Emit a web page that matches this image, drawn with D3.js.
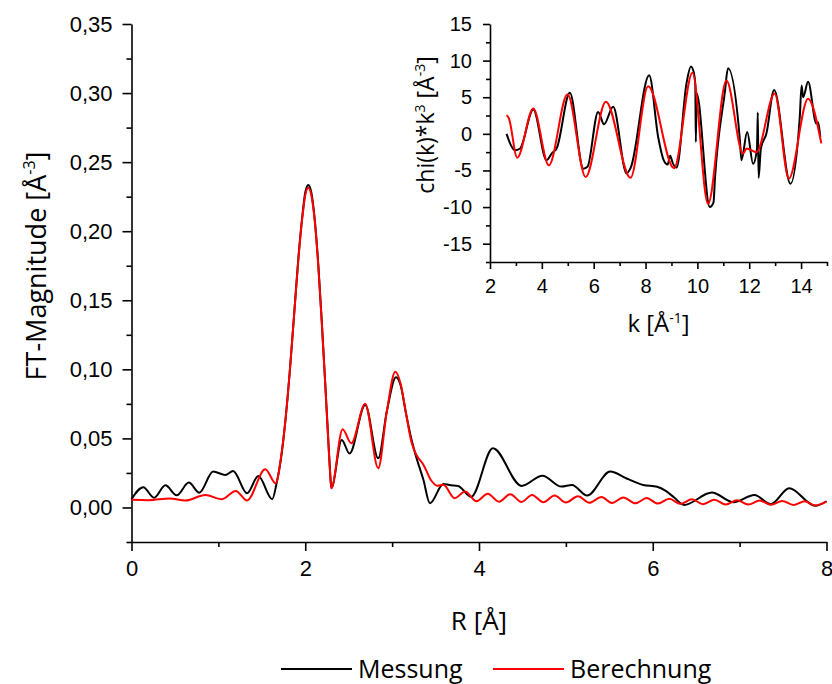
<!DOCTYPE html>
<html>
<head>
<meta charset="utf-8">
<script src="https://cdn.jsdelivr.net/npm/d3@7/dist/d3.min.js"></script>
<style>
  html, body { margin: 0; padding: 0; background: #fff; }
  svg { display: block; font-family: "Open Sans", "Noto Sans", sans-serif; }
  .axis path, .axis line { stroke: #000; stroke-width: 1.6; }
  .axis text { fill: #000; }
</style>
</head>
<body>
<svg id="chart" width="832" height="684"></svg>
<script>
// ---- FT magnitude |chi(R)| : measured and fitted ----
const rMeas = [0, 0.136, 0.26, 0.39, 0.52, 0.66, 0.78, 0.94, 1.08, 1.17, 1.33, 1.46, 1.62, 1.67, 1.72, 1.77, 1.82, 1.87, 1.92, 1.97, 2.00, 2.035, 2.07, 2.11, 2.15, 2.19, 2.23, 2.26, 2.285, 2.30, 2.42, 2.51, 2.69, 2.84, 2.94, 3.044, 3.10, 3.16, 3.22, 3.28, 3.36, 3.435, 3.59, 3.66, 3.76, 3.91, 4.16, 4.49, 4.73, 4.95, 5.07, 5.245, 5.51, 5.70, 5.89, 6.05, 6.15, 6.25, 6.36, 6.68, 6.93, 7.17, 7.36, 7.57, 7.87, 8.0];
const ftMeas = [0.006, 0.0146, 0.007, 0.016, 0.0088, 0.018, 0.0107, 0.026, 0.0235, 0.0264, 0.0103, 0.0228, 0.006, 0.0175, 0.035, 0.062, 0.097, 0.138, 0.180, 0.213, 0.228, 0.2335, 0.228, 0.208, 0.176, 0.135, 0.090, 0.055, 0.027, 0.014, 0.0489, 0.039, 0.0742, 0.0356, 0.070, 0.0943, 0.088, 0.068, 0.050, 0.036, 0.020, 0.003, 0.017, 0.0162, 0.0156, 0.0078, 0.0429, 0.0156, 0.023, 0.0151, 0.0163, 0.0086, 0.026, 0.021, 0.0163, 0.015, 0.012, 0.007, 0.0018, 0.0108, 0.0037, 0.009, 0.0024, 0.0139, 0.0012, 0.0045];

const rCalc = [0, 0.2, 0.44, 0.62, 0.85, 1.04, 1.2, 1.33, 1.54, 1.66, 1.72, 1.77, 1.82, 1.87, 1.92, 1.97, 2.00, 2.035, 2.07, 2.11, 2.15, 2.19, 2.23, 2.26, 2.285, 2.30, 2.43, 2.53, 2.69, 2.84, 2.94, 3.036, 3.10, 3.16, 3.22, 3.28, 3.36, 3.45, 3.52, 3.59, 3.72, 3.84, 3.97, 4.10, 4.23, 4.36, 4.49, 4.61, 4.74, 4.87, 5.00, 5.14, 5.27, 5.41, 5.53, 5.66, 5.80, 5.93, 6.06, 6.19, 6.32, 6.45, 6.58, 6.71, 6.84, 6.97, 7.10, 7.23, 7.36, 7.49, 7.62, 7.75, 7.87, 8.0];
const ftCalc = [0.0055, 0.0053, 0.0065, 0.005, 0.009, 0.006, 0.012, 0.005, 0.0277, 0.0175, 0.036, 0.062, 0.097, 0.138, 0.179, 0.212, 0.226, 0.2315, 0.226, 0.207, 0.175, 0.134, 0.089, 0.054, 0.026, 0.0139, 0.0566, 0.0465, 0.075, 0.0284, 0.070, 0.0983, 0.089, 0.068, 0.048, 0.038, 0.031, 0.0195, 0.0158, 0.0165, 0.0067, 0.0115, 0.0045, 0.0100, 0.0042, 0.0096, 0.0040, 0.0091, 0.0038, 0.0086, 0.0036, 0.0081, 0.0034, 0.0076, 0.0032, 0.0072, 0.0030, 0.0068, 0.0028, 0.0063, 0.0026, 0.0059, 0.0024, 0.0056, 0.0022, 0.0053, 0.0021, 0.0050, 0.0019, 0.0047, 0.0018, 0.0045, 0.0015, 0.0042];

// ---- k-space chi(k)*k^3 : measured and fitted ----
const kMeas = [2.64, 2.80, 2.96, 3.16, 3.67, 4.18, 4.40, 4.57, 5.08, 5.60, 5.76, 6.17, 6.40, 6.75, 7.27, 7.43, 8.14, 8.49, 8.70, 8.85, 8.95, 9.05, 9.20, 9.58, 9.75, 9.86, 9.92, 9.94, 9.97, 10.48, 10.62, 10.68, 11.06, 11.18, 11.64, 11.70, 11.92, 12.15, 12.30, 12.33, 12.36, 12.45, 12.66, 12.96, 13.59, 13.95, 14.02, 14.08, 14.27, 14.59, 14.66, 14.74];
const chiMeas = [0.0, -1.5, -2.25, -2.0, 3.33, -3.6, -2.6, -2.0, 5.6, -4.75, -4.5, 3.0, 1.3, 3.7, -5.4, -4.6, 8.0, -0.5, -3.6, -4.2, -3.0, -4.0, -4.6, 6.9, 9.2, 8.4, 6.8, -1.1, 5.5, -10.0, -9.4, -6.0, 5.7, 8.95, -0.9, -3.6, 0.25, -4.1, -2.0, 2.9, -6.0, -2.0, 0.0, 6.0, -6.8, 2.3, 6.6, 5.0, 7.1, 1.4, 1.6, -0.4];

const kCalc = [2.64, 2.73, 3.05, 3.67, 4.27, 4.99, 5.69, 6.47, 7.42, 8.10, 9.10, 9.81, 10.41, 11.12, 11.76, 11.90, 12.28, 12.98, 13.53, 14.27, 14.78];
const chiCalc = [2.55, 2.1, -3.25, 3.45, -4.3, 5.4, -5.9, 4.4, -6.0, 6.5, -4.7, 8.35, -9.55, 7.3, -2.7, -2.0, -2.5, 5.5, -6.1, 4.8, -1.3];

// ---- axis ticks ----
const rTicks = [0, 2, 4, 6, 8];
const rMinor = [1, 3, 5, 7];
const ftTicks = [0, 0.05, 0.10, 0.15, 0.20, 0.25, 0.30, 0.35];
const ftMinor = [-0.025, 0.025, 0.075, 0.125, 0.175, 0.225, 0.275, 0.325];
const kTicks = [2, 4, 6, 8, 10, 12, 14];
const kMinor = [3, 5, 7, 9, 11, 13, 15];
const chiTicks = [-15, -10, -5, 0, 5, 10, 15];
const chiMinor = [-17.5, -12.5, -7.5, -2.5, 2.5, 7.5, 12.5];

const seriesNames = ["Messung", "Berechnung"];
const seriesColors = ["#000000", "#ff0000"];

const de = d3.formatLocale({ decimal: ",", thousands: ".", grouping: [3], currency: ["", " €"], minus: "-" });
const fmt2 = de.format(".2f");
const fmt0 = de.format("d");

const svg = d3.select("#chart");

// ---------- main panel ----------
const x = d3.scaleLinear().domain([0, 8]).range([131.5, 826.5]);
const y = d3.scaleLinear().domain([-0.025, 0.35]).range([542, 24]);

svg.append("g").attr("class", "axis").attr("transform", `translate(0,${y(-0.025)})`)
  .call(d3.axisBottom(x).tickValues(rTicks).tickFormat(fmt0).tickSize(9).tickSizeOuter(0).tickPadding(9))
  .selectAll("text").attr("font-size", 22);
svg.append("g").attr("class", "axis").attr("transform", `translate(0,${y(-0.025)})`)
  .call(d3.axisBottom(x).tickValues(rMinor).tickFormat("").tickSize(5).tickSizeOuter(0))
  .select(".domain").remove();

svg.append("g").attr("class", "axis").attr("transform", `translate(${x(0)},0)`)
  .call(d3.axisLeft(y).tickValues(ftTicks).tickFormat(fmt2).tickSize(9).tickSizeOuter(0).tickPadding(10))
  .selectAll("text").attr("font-size", 22);
svg.append("g").attr("class", "axis").attr("transform", `translate(${x(0)},0)`)
  .call(d3.axisLeft(y).tickValues(ftMinor).tickFormat("").tickSize(5).tickSizeOuter(0))
  .select(".domain").remove();

const lineMain = d3.line().x(d => x(d[0])).y(d => y(d[1])).curve(d3.curveMonotoneX);
svg.append("path").attr("d", lineMain(d3.zip(rMeas, ftMeas)))
  .attr("fill", "none").attr("stroke", seriesColors[0]).attr("stroke-width", 2);
svg.append("path").attr("d", lineMain(d3.zip(rCalc, ftCalc)))
  .attr("fill", "none").attr("stroke", seriesColors[1]).attr("stroke-width", 2);

// axis titles
const yTitle = svg.append("text").attr("transform", "translate(46,266) rotate(-90)")
  .attr("text-anchor", "middle").attr("font-size", 27);
yTitle.append("tspan").text("FT-Magnitude [Å");
yTitle.append("tspan").attr("baseline-shift", "super").attr("font-size", 16).text("-3");
yTitle.append("tspan").text("]");

svg.append("text").attr("x", x(4)).attr("y", 630).attr("text-anchor", "middle")
  .attr("font-size", 26).text("R [Å]");

// ---------- inset panel ----------
const kx = d3.scaleLinear().domain([2, 15]).range([490, 827]);
const ky = d3.scaleLinear().domain([-17.5, 15]).range([262, 24]);

svg.append("g").attr("class", "axis").attr("transform", `translate(0,${ky(-17.5)})`)
  .call(d3.axisBottom(kx).tickValues(kTicks).tickFormat(fmt0).tickSize(7).tickSizeOuter(0).tickPadding(10))
  .selectAll("text").attr("font-size", 20);
svg.append("g").attr("class", "axis").attr("transform", `translate(0,${ky(-17.5)})`)
  .call(d3.axisBottom(kx).tickValues(kMinor).tickFormat("").tickSize(4).tickSizeOuter(0))
  .select(".domain").remove();

svg.append("g").attr("class", "axis").attr("transform", `translate(${kx(2)},0)`)
  .call(d3.axisLeft(ky).tickValues(chiTicks).tickFormat(fmt0).tickSize(7).tickSizeOuter(0).tickPadding(11))
  .selectAll("text").attr("font-size", 20);
svg.append("g").attr("class", "axis").attr("transform", `translate(${kx(2)},0)`)
  .call(d3.axisLeft(ky).tickValues(chiMinor).tickFormat("").tickSize(4).tickSizeOuter(0))
  .select(".domain").remove();

const lineK = d3.line().x(d => kx(d[0])).y(d => ky(d[1])).curve(d3.curveMonotoneX);
svg.append("path").attr("d", lineK(d3.zip(kMeas, chiMeas)))
  .attr("fill", "none").attr("stroke", seriesColors[0]).attr("stroke-width", 2);
svg.append("path").attr("d", lineK(d3.zip(kCalc, chiCalc)))
  .attr("fill", "none").attr("stroke", seriesColors[1]).attr("stroke-width", 2);

const kyTitle = svg.append("text").attr("transform", "translate(434,125) rotate(-90)")
  .attr("text-anchor", "middle").attr("font-size", 23);
kyTitle.append("tspan").text("chi(k)*k");
kyTitle.append("tspan").attr("baseline-shift", "super").attr("font-size", 14).text("3");
kyTitle.append("tspan").text(" [Å");
kyTitle.append("tspan").attr("baseline-shift", "super").attr("font-size", 14).text("-3");
kyTitle.append("tspan").text("]");

const kxTitle = svg.append("text").attr("x", kx(8.5)).attr("y", 332)
  .attr("text-anchor", "middle").attr("font-size", 24);
kxTitle.append("tspan").text("k [Å");
kxTitle.append("tspan").attr("baseline-shift", "super").attr("font-size", 14).text("-1");
kxTitle.append("tspan").text("]");

// ---------- legend ----------
const legendItems = [
  { name: seriesNames[0], color: seriesColors[0], x0: 281 },
  { name: seriesNames[1], color: seriesColors[1], x0: 493 }
];
const lg = svg.append("g").selectAll("g").data(legendItems).join("g");
lg.append("line").attr("x1", d => d.x0).attr("x2", d => d.x0 + 71)
  .attr("y1", 669).attr("y2", 669).attr("stroke", d => d.color).attr("stroke-width", 2);
lg.append("text").attr("x", d => d.x0 + 77).attr("y", 678).attr("font-size", 25).text(d => d.name);
</script>
</body>
</html>
